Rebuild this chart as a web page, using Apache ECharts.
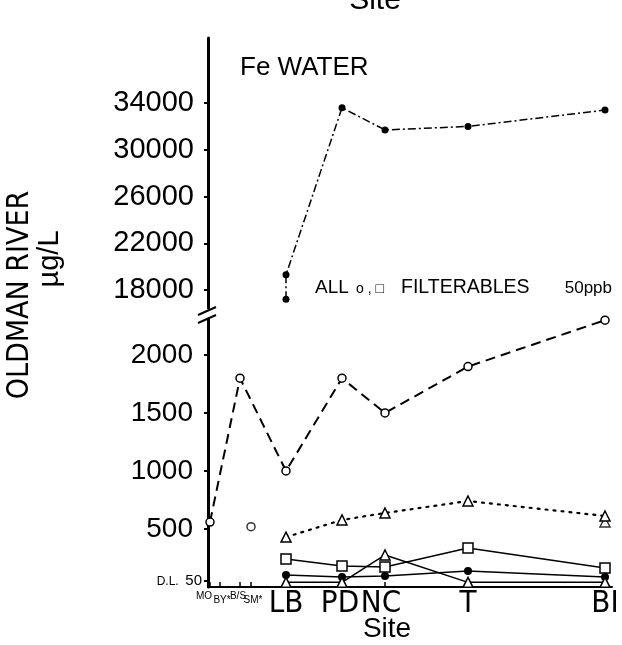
<!DOCTYPE html>
<html><head><meta charset="utf-8">
<script src="https://cdn.jsdelivr.net/npm/echarts@6/dist/echarts.min.js"></script>
<style>html,body{margin:0;padding:0;background:#fff}#c{width:622px;height:645px}</style>
</head><body><div id="c"></div>
<script>
// ---- data ----
const sites = ['MO','BY','B/S','SM','LB','PD','NC','T','BI'];
const siteX = [2, 12, 32, 43, 78, 134, 177, 260, 397];   // relative position along the river
const siteLabels = ['MO','BY*','B/S','SM*','LB','PD','NC','T','BI'];
const lowRowSites = ['BY','SM'];           // small labels printed on the second row
const mainSites = ['LB','PD','NC','T','BI'];
const upperTicks = [18000, 22000, 26000, 30000, 34000];
const lowerTicks = [50, 500, 1000, 1500, 2000];

// upper panel: total Fe (dash-dot, filled dots); LB has two values
const feTotalSites = ['LB','LB','PD','NC','T','BI'];
const feTotal = [17200, 19300, 33600, 31700, 32000, 33400];
// lower panel
const allCircleSites = ['MO','B/S','LB','PD','NC','T','BI'];
const allCircle = [560, 1800, 1000, 1800, 1500, 1900, 2300];
const smCircleSites = ['SM'];
const smCircle = [520];
const triDotted = [430, 578, 638, 741, 612];
const triExtraSites = ['BI'];
const triExtra = [560];
const filtSquare = [241, 181, 172, 336, 164];
const filtDot = [103, 86, 95, 138, 86];
const filtTri = [40, 40, 276, 40, 40];

// ---- chart ----
const SANS = '"Liberation Sans", Arial, sans-serif';
const NARROW = '"DejaVu Sans Condensed", "Liberation Sans Narrow", sans-serif';
const pts = (ss, vs) => ss.map((s, i) => [siteX[sites.indexOf(s)], vs[i]]);
const K = '#000';
const openItem = {color: '#fff', borderColor: K, borderWidth: 1.5};
const topRowX = siteX.filter((x, i) => lowRowSites.indexOf(sites[i]) < 0);
const lowRowX = siteX.filter((x, i) => lowRowSites.indexOf(sites[i]) >= 0);
const labelOf = v => { const i = siteX.indexOf(v); return i < 0 ? null : i; };

const chart = echarts.init(document.getElementById('c'), null, {renderer: 'canvas'});
chart.setOption({
  backgroundColor: '#fff',
  animation: false,
  grid: [
    {left: 208, right: 10, top: 319, bottom: 58},
    {left: 208, right: 10, top: 38, height: 270}
  ],
  xAxis: [
    {type: 'value', gridIndex: 0, position: 'bottom', min: 0, max: 404,
     axisLine: {lineStyle: {color: K, width: 2}},
     axisTick: {inside: true, length: 5, customValues: siteX, lineStyle: {color: K, width: 1.5}},
     splitLine: {show: false},
     axisLabel: {customValues: topRowX, margin: 0, color: K, showMinLabel: true, showMaxLabel: true, hideOverlap: false,
       formatter: v => {
         const i = labelOf(v);
         if (i === null) return '';
         const s = sites[i], l = siteLabels[i];
         if (s === 'MO') return '{mo|' + l + '}';
         if (s === 'B/S') return '{bs|' + l + '}';
         if (s === 'NC') return '{nc|' + l + '}';
         if (s === 'PD') return '{pd|' + l + '}';
         return '{big|' + l + '}';
       },
       rich: {
         big: {fontFamily: NARROW, fontSize: 31, lineHeight: 30, padding: [3, 0, 0, 0], color: K},
         pd: {fontFamily: NARROW, fontSize: 31, lineHeight: 30, padding: [3, 4, 0, 0], color: K},
         nc: {fontFamily: NARROW, fontSize: 31, lineHeight: 30, padding: [3, 8, 0, 0], color: K},
         mo: {fontFamily: SANS, fontSize: 10, lineHeight: 10, padding: [8, 12, 0, 0], color: K},
         bs: {fontFamily: SANS, fontSize: 10, lineHeight: 10, padding: [8, 4, 0, 0], color: K}
       }
     }},
    {type: 'value', gridIndex: 0, position: 'bottom', min: 0, max: 404,
     axisLine: {show: false}, axisTick: {show: false}, splitLine: {show: false},
     axisLabel: {customValues: lowRowX, margin: 0, color: K, showMinLabel: true, showMaxLabel: true,
       formatter: v => { const i = labelOf(v); return i === null ? '' : '{lo|' + siteLabels[i] + '}'; },
       rich: {lo: {fontFamily: SANS, fontSize: 10, lineHeight: 10, padding: [17, 0, 0, 4], color: K}}
     }},
    {type: 'value', gridIndex: 1, min: 0, max: 404, show: false, splitLine: {show: false}}
  ],
  yAxis: [
    {type: 'value', gridIndex: 0, min: 0, max: 2310,
     axisLine: {show: true, lineStyle: {color: K, width: 3}},
     axisTick: {show: true, length: 4, customValues: lowerTicks, lineStyle: {color: K, width: 2}},
     splitLine: {show: false},
     axisLabel: {customValues: lowerTicks, margin: 6, color: K, showMinLabel: true,
       formatter: v => v === 50 ? '{dl|D.L.}  {f|50}' : '{n|' + v + '}',
       rich: {
         n: {fontFamily: SANS, fontSize: 28, padding: [0, 9, 0, 0], color: K},
         dl: {fontFamily: SANS, fontSize: 12, color: K},
         f: {fontFamily: SANS, fontSize: 15, color: K}
       }}},
    {type: 'value', gridIndex: 1, min: 16460, max: 39570,
     axisLine: {show: true, lineStyle: {color: K, width: 3}},
     axisTick: {show: true, length: 4, customValues: upperTicks, lineStyle: {color: K, width: 2}},
     splitLine: {show: false},
     axisLabel: {customValues: upperTicks, margin: 14, color: K, fontFamily: SANS, fontSize: 29,
       formatter: v => String(v)}}
  ],
  series: [
    {type: 'line', xAxisIndex: 2, yAxisIndex: 1, data: pts(feTotalSites, feTotal),
     symbol: 'circle', symbolSize: 7, itemStyle: {color: K},
     lineStyle: {color: K, width: 1.5, type: [8, 3, 2, 3]}},
    {type: 'line', data: pts(allCircleSites, allCircle), symbol: 'circle', symbolSize: 8,
     itemStyle: openItem, lineStyle: {color: K, width: 2, type: [10, 6]}},
    {type: 'scatter', data: pts(smCircleSites, smCircle), symbol: 'circle', symbolSize: 8, itemStyle: openItem},
    {type: 'line', data: pts(mainSites, triDotted), symbol: 'triangle', symbolSize: 10,
     itemStyle: openItem, lineStyle: {color: K, width: 2.2, type: [2, 6], cap: 'round'}},
    {type: 'scatter', data: pts(triExtraSites, triExtra), symbol: 'triangle', symbolSize: 10, itemStyle: openItem},
    {type: 'line', data: pts(mainSites, filtSquare), symbol: 'rect', symbolSize: 10,
     itemStyle: openItem, lineStyle: {color: K, width: 1.5}},
    {type: 'line', data: pts(mainSites, filtDot), symbol: 'circle', symbolSize: 8,
     itemStyle: {color: K}, lineStyle: {color: K, width: 1.5}},
    {type: 'line', data: pts(mainSites, filtTri), symbol: 'triangle', symbolSize: 10,
     itemStyle: openItem, lineStyle: {color: K, width: 1.5}}
  ],
  graphic: [
    {type: 'text', x: 375, y: 1, style: {text: 'Site', font: '30px ' + SANS, fill: K, align: 'center', verticalAlign: 'middle'}},
    {type: 'text', x: 240, y: 68, style: {text: 'Fe WATER', font: '26px ' + SANS, fill: K, align: 'left', verticalAlign: 'middle'}},
    {type: 'text', x: 315, y: 288, style: {text: 'ALL', font: '19px ' + SANS, fill: K, align: 'left', verticalAlign: 'middle'}},
    {type: 'text', x: 356, y: 289, style: {text: 'o , □', font: '14px ' + SANS, fill: K, align: 'left', verticalAlign: 'middle'}},
    {type: 'text', x: 401, y: 288, style: {text: 'FILTERABLES', font: '19.5px ' + SANS, fill: K, align: 'left', verticalAlign: 'middle'}},
    {type: 'text', x: 612, y: 288, style: {text: '50ppb', font: '17px ' + SANS, fill: K, align: 'right', verticalAlign: 'middle'}},
    {type: 'text', x: 20, y: 295, rotation: Math.PI / 2, style: {text: 'OLDMAN RIVER', font: '30px ' + NARROW, fill: K, align: 'center', verticalAlign: 'middle'}},
    {type: 'text', x: 50, y: 259, rotation: Math.PI / 2, style: {text: 'µg/L', font: '29px ' + SANS, fill: K, align: 'center', verticalAlign: 'middle'}},
    {type: 'text', x: 387, y: 629, style: {text: 'Site', font: '28px ' + SANS, fill: K, align: 'center', verticalAlign: 'middle'}},
    {type: 'line', shape: {x1: 198, y1: 315, x2: 216, y2: 307}, style: {stroke: K, lineWidth: 2}},
    {type: 'line', shape: {x1: 198, y1: 323, x2: 216, y2: 315}, style: {stroke: K, lineWidth: 2}}
  ]
});
</script>
</body></html>
